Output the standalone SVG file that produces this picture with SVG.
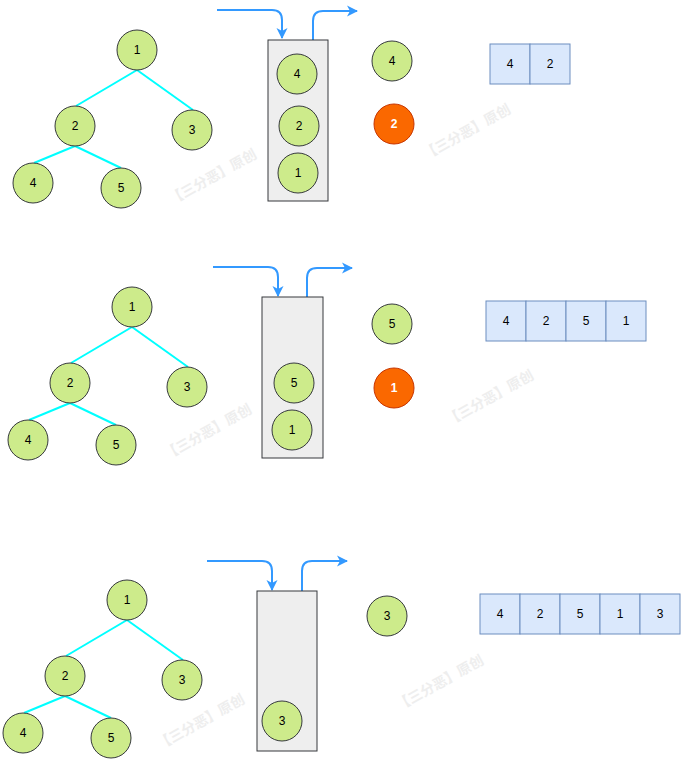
<svg xmlns="http://www.w3.org/2000/svg" width="683" height="764" viewBox="0 0 683 764">
<style>
.n{fill:#cdeb8b;stroke:#36393d;stroke-width:1}
.o{fill:#fa6800;stroke:#c73500;stroke-width:1}
.t{font-family:"Liberation Sans",Arial,sans-serif;font-size:12px;fill:#000;text-anchor:middle}
.tw{font-family:"Liberation Sans",Arial,sans-serif;font-size:12px;font-weight:bold;fill:#fff;text-anchor:middle}
.e{stroke:#00ffff;stroke-width:2;fill:none}
.a{stroke:#3399ff;stroke-width:2;fill:none;marker-end:url(#ah)}
.s{fill:#eeeeee;stroke:#36393d;stroke-width:1}
.c{fill:#dae8fc;stroke:#6c8ebf;stroke-width:1}
.w{font-family:"Noto Sans CJK SC",sans-serif;font-size:14px;font-weight:bold;fill:#eeeeee;text-anchor:middle}
</style>
<defs>
<marker id="ah" markerWidth="12" markerHeight="12" refX="10" refY="6" orient="auto" markerUnits="userSpaceOnUse">
<path d="M0,0.5 L11,6 L0,11.5 L3,6 z" fill="#3399ff"/>
</marker>
</defs>
<g id="watermarks">
<text class="w" transform="translate(215,181) rotate(-29)">【三分恶】原创</text>
<text class="w" transform="translate(469,136) rotate(-29)">【三分恶】原创</text>
<text class="w" transform="translate(210,436) rotate(-29)">【三分恶】原创</text>
<text class="w" transform="translate(492,402) rotate(-29)">【三分恶】原创</text>
<text class="w" transform="translate(203,726) rotate(-29)">【三分恶】原创</text>
<text class="w" transform="translate(442,687) rotate(-29)">【三分恶】原创</text>
</g>
<g id="connectors">
<line class="e" x1="137" y1="70" x2="76" y2="106"/>
<line class="e" x1="137" y1="70" x2="193" y2="110"/>
<line class="e" x1="75" y1="146" x2="34" y2="163"/>
<line class="e" x1="75" y1="146" x2="121" y2="168"/>
<line class="e" x1="132" y1="327" x2="71" y2="363"/>
<line class="e" x1="132" y1="327" x2="188" y2="367"/>
<line class="e" x1="70" y1="403" x2="29" y2="420"/>
<line class="e" x1="70" y1="403" x2="116" y2="425"/>
<line class="e" x1="127" y1="620" x2="66" y2="656"/>
<line class="e" x1="127" y1="620" x2="183" y2="660"/>
<line class="e" x1="65" y1="696" x2="24" y2="713"/>
<line class="e" x1="65" y1="696" x2="111" y2="718"/>
<path class="a" d="M217,10 L272,10 Q282,10 282,20 L282,38"/>
<path class="a" d="M313,40 L313,21 Q313,11 323,11 L357,11"/>
<path class="a" d="M213,267 L268,267 Q278,267 278,277 L278,296"/>
<path class="a" d="M307,297 L307,278 Q307,268 317,268 L352,268"/>
<path class="a" d="M207,561 L262,561 Q272,561 272,571 L272,590"/>
<path class="a" d="M302,591 L302,571 Q302,561 312,561 L347,561"/>
</g>
<g id="stack1"><rect class="s" x="268" y="40" width="60" height="161"/></g>
<g id="stack2"><rect class="s" x="262" y="297" width="61" height="161"/></g>
<g id="stack3"><rect class="s" x="257" y="591" width="60" height="160"/></g>
<g id="p1-tree-1"><circle class="n" cx="137" cy="50" r="20"/><text class="t" x="137" y="54">1</text></g>
<g id="p1-tree-2"><circle class="n" cx="75" cy="126" r="20"/><text class="t" x="75" y="130">2</text></g>
<g id="p1-tree-3"><circle class="n" cx="192" cy="130" r="20"/><text class="t" x="192" y="134">3</text></g>
<g id="p1-tree-4"><circle class="n" cx="33" cy="183" r="20"/><text class="t" x="33" y="187">4</text></g>
<g id="p1-tree-5"><circle class="n" cx="121" cy="188" r="20"/><text class="t" x="121" y="192">5</text></g>
<g id="p1-stack-4"><circle class="n" cx="297" cy="74" r="20"/><text class="t" x="297" y="78">4</text></g>
<g id="p1-stack-2"><circle class="n" cx="299" cy="126" r="20"/><text class="t" x="299" y="130">2</text></g>
<g id="p1-stack-1"><circle class="n" cx="298" cy="173" r="20"/><text class="t" x="298" y="177">1</text></g>
<g id="p1-out-4"><circle class="n" cx="392" cy="61" r="20"/><text class="t" x="392" y="65">4</text></g>
<g id="p1-out-2"><circle class="o" cx="394" cy="124" r="20"/><text class="tw" x="394" y="128">2</text></g>
<g id="p1-array">
<rect class="c" x="490" y="44" width="40" height="40"/><text class="t" x="510" y="68">4</text>
<rect class="c" x="530" y="44" width="40" height="40"/><text class="t" x="550" y="68">2</text>
</g>
<g id="p2-tree-1"><circle class="n" cx="132" cy="307" r="20"/><text class="t" x="132" y="311">1</text></g>
<g id="p2-tree-2"><circle class="n" cx="70" cy="383" r="20"/><text class="t" x="70" y="387">2</text></g>
<g id="p2-tree-3"><circle class="n" cx="187" cy="387" r="20"/><text class="t" x="187" y="391">3</text></g>
<g id="p2-tree-4"><circle class="n" cx="28" cy="440" r="20"/><text class="t" x="28" y="444">4</text></g>
<g id="p2-tree-5"><circle class="n" cx="116" cy="445" r="20"/><text class="t" x="116" y="449">5</text></g>
<g id="p2-stack-5"><circle class="n" cx="294" cy="383" r="20"/><text class="t" x="294" y="387">5</text></g>
<g id="p2-stack-1"><circle class="n" cx="292" cy="430" r="20"/><text class="t" x="292" y="434">1</text></g>
<g id="p2-out-5"><circle class="n" cx="392" cy="324" r="20"/><text class="t" x="392" y="328">5</text></g>
<g id="p2-out-1"><circle class="o" cx="394" cy="388" r="20"/><text class="tw" x="394" y="392">1</text></g>
<g id="p2-array">
<rect class="c" x="486" y="301" width="40" height="40"/><text class="t" x="506" y="325">4</text>
<rect class="c" x="526" y="301" width="40" height="40"/><text class="t" x="546" y="325">2</text>
<rect class="c" x="566" y="301" width="40" height="40"/><text class="t" x="586" y="325">5</text>
<rect class="c" x="606" y="301" width="40" height="40"/><text class="t" x="626" y="325">1</text>
</g>
<g id="p3-tree-1"><circle class="n" cx="127" cy="600" r="20"/><text class="t" x="127" y="604">1</text></g>
<g id="p3-tree-2"><circle class="n" cx="65" cy="676" r="20"/><text class="t" x="65" y="680">2</text></g>
<g id="p3-tree-3"><circle class="n" cx="182" cy="680" r="20"/><text class="t" x="182" y="684">3</text></g>
<g id="p3-tree-4"><circle class="n" cx="23" cy="733" r="20"/><text class="t" x="23" y="737">4</text></g>
<g id="p3-tree-5"><circle class="n" cx="111" cy="738" r="20"/><text class="t" x="111" y="742">5</text></g>
<g id="p3-stack-3"><circle class="n" cx="282" cy="721" r="20"/><text class="t" x="282" y="725">3</text></g>
<g id="p3-out-3"><circle class="n" cx="387" cy="616" r="20"/><text class="t" x="387" y="620">3</text></g>
<g id="p3-array">
<rect class="c" x="480" y="594" width="40" height="40"/><text class="t" x="500" y="618">4</text>
<rect class="c" x="520" y="594" width="40" height="40"/><text class="t" x="540" y="618">2</text>
<rect class="c" x="560" y="594" width="40" height="40"/><text class="t" x="580" y="618">5</text>
<rect class="c" x="600" y="594" width="40" height="40"/><text class="t" x="620" y="618">1</text>
<rect class="c" x="640" y="594" width="40" height="40"/><text class="t" x="660" y="618">3</text>
</g>
</svg>
